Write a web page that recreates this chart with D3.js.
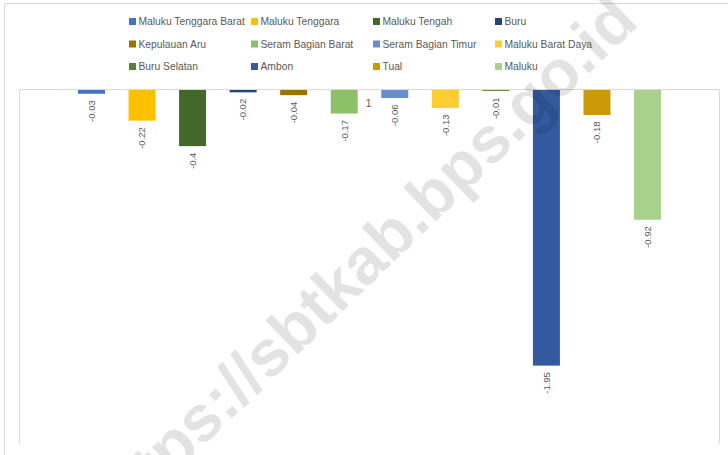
<!DOCTYPE html>
<html><head><meta charset="utf-8">
<script src="https://cdn.jsdelivr.net/npm/d3@7"></script>
<style>html,body{margin:0;padding:0;background:#fff;overflow:hidden}</style>
</head><body>
<svg id="chart" width="728" height="455"></svg>
<script>
const categories = ["1"];
const seriesNames = ["Maluku Tenggara Barat","Maluku Tenggara","Maluku Tengah","Buru","Kepulauan Aru","Seram Bagian Barat","Seram Bagian Timur","Maluku Barat Daya","Buru Selatan","Ambon","Tual","Maluku"];
const seriesValues = [-0.03,-0.22,-0.4,-0.02,-0.04,-0.17,-0.06,-0.13,-0.01,-1.95,-0.18,-0.92];
const seriesColors = ["#4472C4","#FFC000","#43682B","#264478","#997300","#8CC168","#698ED0","#FFCD33","#548235","#335AA1","#CC9A06","#A9D18E"];
const valueDomain = [-2.5, 0];
const watermark = "https://sbtkab.bps.go.id";

const svg = d3.select("#chart");
const font = "'Liberation Sans', Arial, sans-serif";
const textCol = "#595959";
const L = 19.5, R = 719.5, T = 89.5, B = 443.5;

// outer chart border
svg.append("path").attr("d", `M4.5,455 V3.5 H728`).attr("fill","none").attr("stroke","#d9d9d9").attr("stroke-width",1);

const x0 = d3.scaleBand().domain(categories).range([L, R]).paddingOuter(0.077).paddingInner(0);
const x1 = d3.scaleBand().domain(seriesNames).range([0, x0.bandwidth()]).paddingInner(0.466).paddingOuter(0.233);
const y = d3.scaleLinear().domain(valueDomain).range([B, T]);

const data = seriesNames.map((n,i)=>({name:n, value:seriesValues[i], color:seriesColors[i], cat:categories[0]}));

// plot frame lines
svg.append("line").attr("x1",L).attr("x2",L).attr("y1",T).attr("y2",B).attr("stroke","#d9d9d9");
svg.append("line").attr("x1",R).attr("x2",R).attr("y1",T).attr("y2",B).attr("stroke","#d9d9d9");

// bars
svg.append("g").selectAll("rect").data(data).join("rect")
  .attr("x", d => x0(d.cat) + x1(d.name))
  .attr("width", x1.bandwidth())
  .attr("y", d => y(Math.max(0, d.value)))
  .attr("height", d => Math.abs(y(d.value) - y(0)))
  .attr("fill", d => d.color);

// zero axis line
svg.append("line").attr("x1",L).attr("x2",R).attr("y1",y(0)).attr("y2",y(0)).attr("stroke","#d9d9d9");

// watermark
svg.append("text").attr("transform","translate(113,533) rotate(-44)")
  .attr("font-family",font).attr("font-weight","bold").attr("font-size","65px")
  .attr("fill","#000").attr("fill-opacity",0.11).text(watermark);

// category label
svg.append("text").attr("x", x0(categories[0]) + x0.bandwidth()/2 - 1).attr("y", y(0) + 17)
  .attr("text-anchor","middle").attr("font-family",font).attr("font-size","10.3px").attr("fill",textCol).text(categories[0]);

// data labels
svg.append("g").selectAll("text").data(data).join("text")
  .attr("transform", d => `translate(${x0(d.cat) + x1(d.name) + x1.bandwidth()/2},${y(d.value) + 6.5}) rotate(-90)`)
  .attr("text-anchor","end").attr("dy","0.35em")
  .attr("font-family",font).attr("font-size","9.5px").attr("fill",textCol)
  .text(d => String(d.value));

// legend
const colX = [129, 251, 373, 495], rowY = [21.5, 44, 66.5];
const lg = svg.append("g").selectAll("g").data(data).join("g")
  .attr("transform", (d,i) => `translate(${colX[i%4]},${rowY[Math.floor(i/4)]})`);
lg.append("rect").attr("x",0).attr("y",-3.5).attr("width",7).attr("height",7).attr("fill", d=>d.color);
lg.append("text").attr("x",9.5).attr("y",0).attr("dy","0.35em").attr("font-family",font).attr("font-size","10.3px").attr("fill",textCol).text(d=>d.name);
</script>
</body></html>
